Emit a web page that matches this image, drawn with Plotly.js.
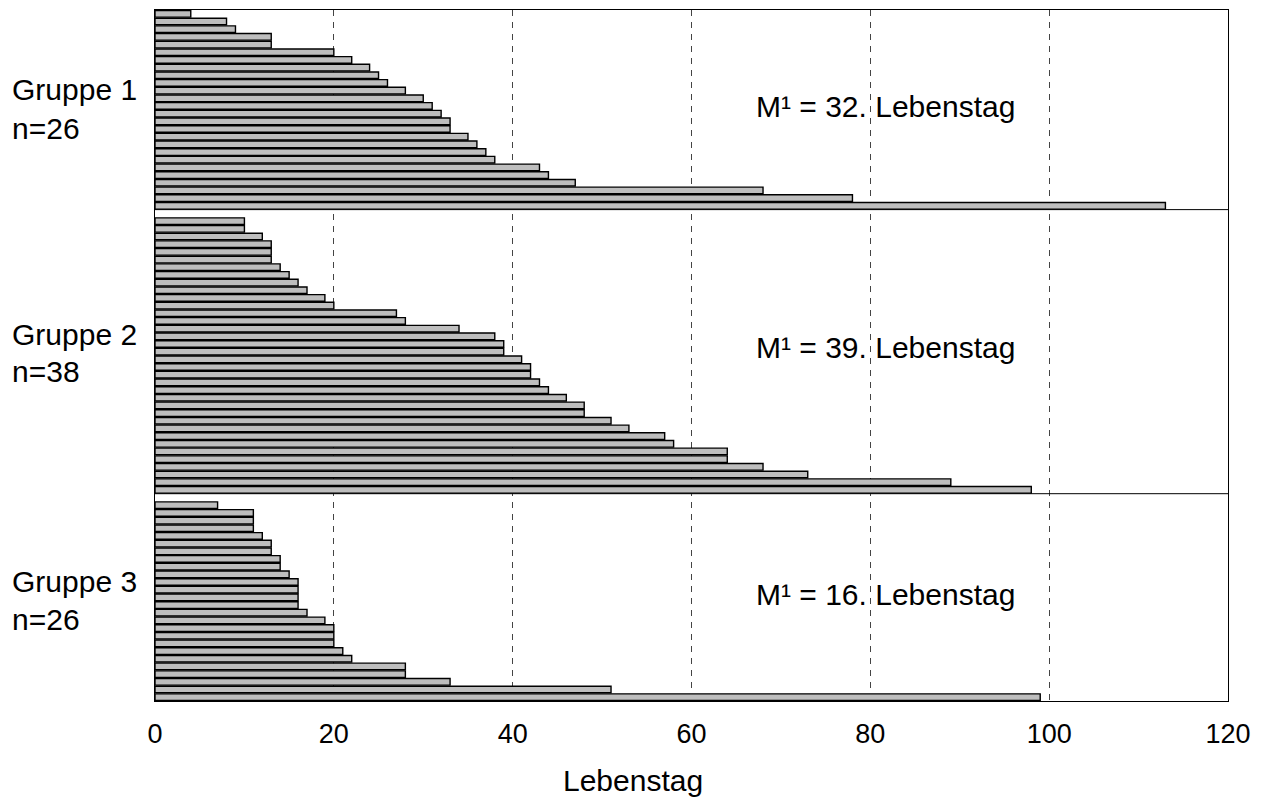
<!DOCTYPE html>
<html>
<head>
<meta charset="utf-8">
<script src="https://cdn.plot.ly/plotly-3.0.1.min.js"></script>
<style>
  html, body { margin: 0; padding: 0; background: #ffffff; }
  #chart { width: 1265px; height: 799px; }
</style>
</head>
<body>
<div id="chart"></div>
<script>
// Lebenstag je Patient, drei Gruppen, aufsteigend sortiert
const gruppe1 = [4, 8, 9, 13, 13, 20, 22, 24, 25, 26, 28, 30, 31, 32, 33, 33, 35, 36, 37, 38, 43, 44, 47, 68, 78, 113];
const gruppe2 = [10, 10, 12, 13, 13, 13, 14, 15, 16, 17, 19, 20, 27, 28, 34, 38, 39, 39, 41, 42, 42, 43, 44, 46, 48, 48,
                 51, 53, 57, 58, 64, 64, 68, 73, 89, 98];
const gruppe3 = [7, 11, 11, 11, 12, 13, 13, 14, 14, 15, 16, 16, 16, 16, 17, 19, 20, 20, 20, 21, 22, 28, 28, 33, 51, 99];

const gruppenNamen = ["Gruppe 1", "Gruppe 2", "Gruppe 3"];
const gruppenN = ["n=26", "n=38", "n=26"];
const medianTexte = ["M¹ = 32. Lebenstag", "M¹ = 39. Lebenstag", "M¹ = 16. Lebenstag"];
const xTicks = [0, 20, 40, 60, 80, 100, 120];
const xTitel = "Lebenstag";

// Each group gets one row slot per patient; groups 2 and 3 start after one empty slot.
const gruppen = [gruppe1, gruppe2, gruppe3];
const xs = [], ys = [];
const grenzen = [];
let slot = 0;
gruppen.forEach((g, gi) => {
  if (gi > 0) { grenzen.push(slot); slot += 1; }
  g.forEach(v => { xs.push(v); ys.push(slot + 0.5); slot += 1; });
});
const slotsGesamt = slot;

const font = "Liberation Sans, Arial, sans-serif";
const labelSize = 30;

const trace = {
  type: "bar",
  orientation: "h",
  x: xs,
  y: ys,
  width: 0.86,
  marker: { color: "#bebebe", line: { color: "#000000", width: 1.4 } },
  hoverinfo: "x"
};

const shapes = grenzen.map(b => ({
  type: "line", xref: "paper", yref: "y",
  x0: 0, x1: 1, y0: b, y1: b,
  line: { color: "#000000", width: 1 }
}));

// label positions in row slots
const gruppenY = [10.4, 42.2, 74.5];
const nY = [15.4, 47.1, 79.4];
const medianY = [12.6, 44.0, 76.1];

const annotations = [];
for (let i = 0; i < 3; i++) {
  annotations.push({
    xref: "paper", yref: "y", x: -0.1353, y: gruppenY[i],
    xanchor: "left", yanchor: "middle", showarrow: false,
    text: gruppenNamen[i], font: { family: font, size: labelSize, color: "#000" }
  });
  annotations.push({
    xref: "paper", yref: "y", x: -0.1353, y: nY[i],
    xanchor: "left", yanchor: "middle", showarrow: false,
    text: gruppenN[i], font: { family: font, size: labelSize, color: "#000" }
  });
  annotations.push({
    xref: "x", yref: "y", x: 67.0, y: medianY[i],
    xanchor: "left", yanchor: "middle", showarrow: false,
    text: medianTexte[i], font: { family: font, size: labelSize, color: "#000" }
  });
}
// axis title, set slightly left of the plot centre
annotations.push({
  xref: "paper", yref: "paper", x: 0.4455, y: -0.115,
  xanchor: "center", yanchor: "middle", showarrow: false,
  text: xTitel, font: { family: font, size: labelSize, color: "#000" }
});

const layout = {
  width: 1265, height: 799,
  margin: { l: 155, r: 37, t: 10, b: 98 },
  paper_bgcolor: "#ffffff", plot_bgcolor: "#ffffff",
  showlegend: false,
  bargap: 0,
  font: { family: font, size: 27, color: "#000" },
  xaxis: {
    range: [0, 120],
    tickvals: xTicks,
    ticktext: xTicks.map(String),
    ticks: "",
    ticklabelstandoff: 8,
    showgrid: true,
    gridcolor: "#444444",
    gridwidth: 1,
    griddash: "6px,6px",
    zeroline: false,
    showline: true, linecolor: "#000000", linewidth: 1.3, mirror: true,
    tickfont: { family: font, size: 27, color: "#000" }
  },
  yaxis: {
    range: [slotsGesamt, 0],
    showticklabels: false,
    ticks: "",
    showgrid: false,
    zeroline: false,
    showline: true, linecolor: "#000000", linewidth: 1.3, mirror: true
  },
  shapes: shapes,
  annotations: annotations
};

Plotly.newPlot("chart", [trace], layout, { displayModeBar: false, staticPlot: true });
</script>
</body>
</html>
